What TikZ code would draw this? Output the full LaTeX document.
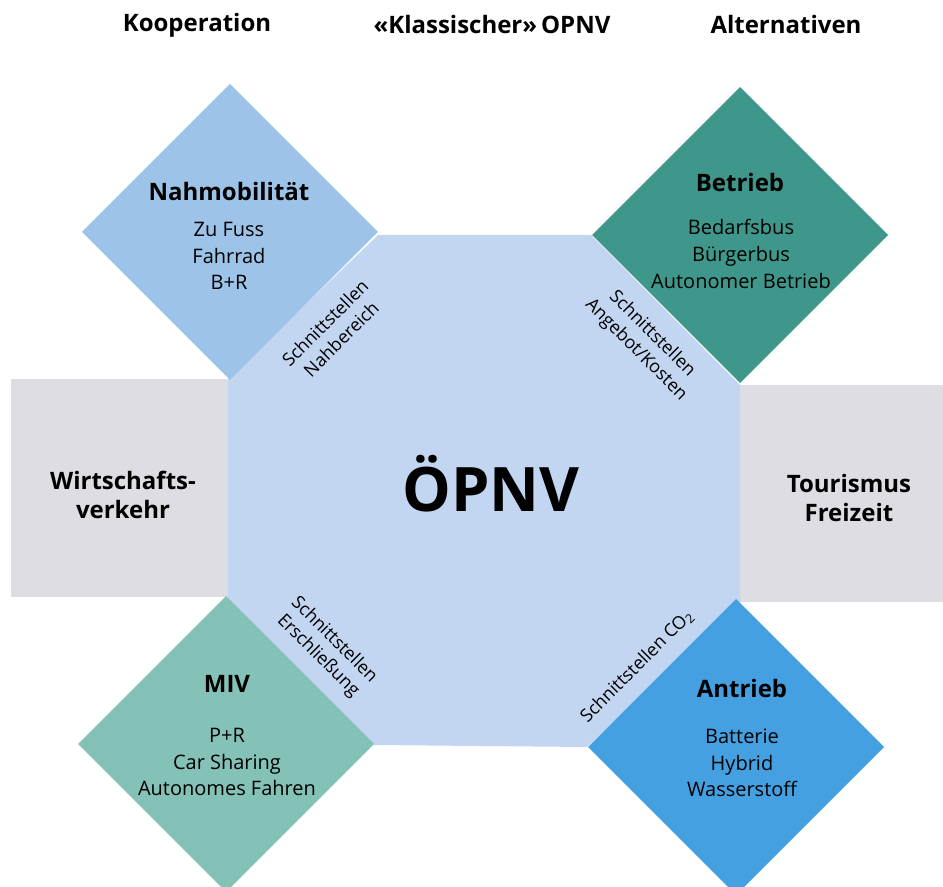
\documentclass[tikz,border=0pt]{standalone}
\usepackage{fontspec}
\setmainfont{Open Sans}
\usepackage{tikz}
\usetikzlibrary{positioning}
\definecolor{corefill}{HTML}{C3D6F1}
\definecolor{sidegray}{HTML}{DEDDE3}
\definecolor{nahblue}{HTML}{9DC3E8}
\definecolor{betriebteal}{HTML}{3E978A}
\definecolor{mivgreen}{HTML}{84C2B7}
\definecolor{antriebblue}{HTML}{45A0E2}

\begin{document}
\begin{tikzpicture}[x=0.75pt,y=-0.75pt,
    headline/.style={font=\fontsize{18}{21}\selectfont\bfseries},
    boxtitle/.style={font=\fontsize{18}{21}\selectfont\bfseries},
    itemlist/.style={align=center,font=\fontsize{15}{20}\selectfont},
    sidetitle/.style={align=center,font=\fontsize{18}{22}\selectfont\bfseries},
    seam/.style={align=center,inner sep=0pt,font=\fontsize{13.5}{17}\selectfont}]
  \useasboundingbox (0,0) rectangle (943,887);
  % side boxes
  \fill[sidegray] (11,379) rectangle (228,597);
  \fill[sidegray] (740,385) rectangle (943,602);
  % core octagon
  \fill[corefill] (378,235) -- (591,235) -- (740,385) -- (740,602) -- (587,747)
    -- (373,745) -- (228,598) -- (228,379) -- cycle;
  % four diamonds
  \foreach \cx/\cy/\col in {230/232/nahblue,740/235/betriebteal,226/744/mivgreen,736/747/antriebblue} {
    \fill[color=\col] (\cx,\cy-148) -- (\cx+148,\cy) -- (\cx,\cy+148) -- (\cx-148,\cy) -- cycle;
  }
  % column heads
  \node[headline] (kooperation) at (197,25) {Kooperation};
  \node[headline] (klassisch) at (492,25) {«Klassischer»\,OPNV};
  \node[headline] (alternativen) at (786,25) {Alternativen};
  % centre
  \node[font=\fontsize{46}{52}\selectfont\bfseries] (oepnv) at (491,484) {ÖPNV};
  \node[sidetitle] (wirtschaft) at (123,495) {Wirtschafts-\\verkehr};
  \node[sidetitle] (tourismus) at (849,498) {Tourismus\\Freizeit};
  % diamond texts
  \node[boxtitle] (nahmob) at (229,192) {Nahmobilität};
  \node[itemlist] (nahmob-list) at (229,256) {Zu Fuss\\Fahrrad\\B+R};
  \node[boxtitle] (betrieb) at (740,183) {Betrieb};
  \node[itemlist] (betrieb-list) at (741,254) {Bedarfsbus\\Bürgerbus\\Autonomer Betrieb};
  \node[boxtitle] (miv) at (227,684) {MIV};
  \node[itemlist] (miv-list) at (227,762) {P+R\\Car Sharing\\Autonomes Fahren};
  \node[boxtitle] (antrieb) at (742,688) {Antrieb};
  \node[itemlist] (antrieb-list) at (742,763) {Batterie\\Hybrid\\Wasserstoff};
  % interfaces along the octagon
  \node[seam,rotate=45] (seam-nah) at (333,331) {Schnittstellen\\Nahbereich};
  \node[seam,rotate=-45] (seam-angebot) at (644,342) {Schnittstellen\\Angebot/Kosten};
  \node[seam,rotate=-45] (seam-erschl) at (326,648) {Schnittstellen\\Erschließung};
  \node[seam,rotate=45] (seam-co2) at (637,666) {Schnittstellen CO\textsubscript{2}};
\end{tikzpicture}
\end{document}
